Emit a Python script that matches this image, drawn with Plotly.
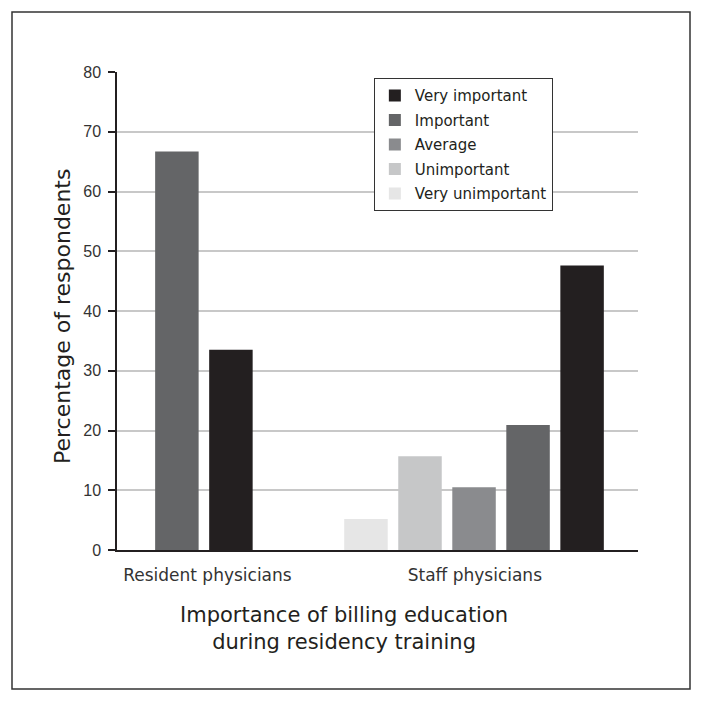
import plotly.graph_objects as go

groups = ["Resident physicians", "Staff physicians"]
levels = ["Very important", "Important", "Average", "Unimportant", "Very unimportant"]
resident = [33.5, 66.7, None, None, None]
staff = [47.6, 20.9, 10.5, 15.7, 5.2]
colors = ["#231f20", "#646567", "#8a8b8e", "#c6c7c8", "#e6e6e6"]

yticks = [0, 10, 20, 30, 40, 50, 60, 70, 80]

series = {groups[0]: resident, groups[1]: staff}
slot = 0.2
bar_w = 0.161

TICKFONT = "Liberation Sans, Arial, sans-serif"
FONT = "DejaVu Sans, sans-serif"
fig = go.Figure()

# slot order within each group: Very unimportant -> Very important (left to right)
for li, lvl in enumerate(levels):
    xs, ys = [], []
    for gi, g in enumerate(groups):
        vals = series[g]
        present = [k for k in range(len(levels) - 1, -1, -1) if vals[k] is not None]
        n = len(present)
        if vals[li] is None:
            continue
        pos = present.index(li)
        xs.append(gi + (pos - (n - 1) / 2) * slot)
        ys.append(vals[li])
    fig.add_trace(go.Bar(
        x=xs, y=ys, name=lvl, width=bar_w,
        marker=dict(color=colors[li], line=dict(width=0)),
        legendgroup=lvl,
    ))

fig.update_layout(
    width=703, height=702,
    margin=dict(l=117, r=65, t=72, b=152),
    paper_bgcolor="white", plot_bgcolor="white",
    barmode="overlay",
    font=dict(family=FONT, color="#333333", size=15),
    showlegend=True,
    legend=dict(
        x=0.493, y=0.987, xanchor="left", yanchor="top",
        bordercolor="#333333", borderwidth=1, bgcolor="white",
        font=dict(size=15, color="#231f20", family=FONT),
        traceorder="grouped", tracegroupgap=2,
        entrywidth=150, entrywidthmode="pixels",
        itemclick=False,
    ),
    xaxis=dict(
        range=[-0.3217, 1.607],
        tickmode="array", tickvals=[0.013, 1.003], ticktext=groups,
        showgrid=False, zeroline=False,
        showline=True, linecolor="#231f20", linewidth=1.5,
        ticks="", ticklabelstandoff=9,
        tickfont=dict(size=17, color="#333333", family=FONT),
    ),
    yaxis=dict(
        range=[0, 80], tickmode="array", tickvals=yticks,
        showgrid=True, gridcolor="#c8c8c8", gridwidth=2,
        zeroline=False,
        showline=True, linecolor="#231f20", linewidth=1.5,
        ticks="outside", ticklen=7, tickcolor="#231f20", tickwidth=1.5,
        ticklabelstandoff=4,
        tickfont=dict(size=16, color="#333333", family=TICKFONT),
    ),
    annotations=[
        dict(text="Percentage of respondents", textangle=-90,
             xref="paper", yref="paper", x=(62 - 117) / 521, y=(550 - 317) / 478,
             xanchor="center", yanchor="middle", showarrow=False,
             font=dict(size=22, color="#231f20", family=FONT)),
        dict(text="Importance of billing education<br>during residency training",
             xref="paper", yref="paper", x=(344 - 117) / 521, y=(550 - 628) / 478,
             xanchor="center", yanchor="middle", showarrow=False,
             font=dict(size=21, color="#231f20", family=FONT)),
    ],
    shapes=[
        dict(type="rect", xref="paper", yref="paper",
             x0=(12 - 117) / 521, x1=(690 - 117) / 521,
             y0=(550 - 689) / 478, y1=(550 - 12) / 478,
             line=dict(color="#333333", width=1.5), fillcolor="rgba(0,0,0,0)",
             layer="below"),
    ],
)

fig.write_html("out.html", config={"displayModeBar": False},
               post_script="document.body.style.margin='0px';")
